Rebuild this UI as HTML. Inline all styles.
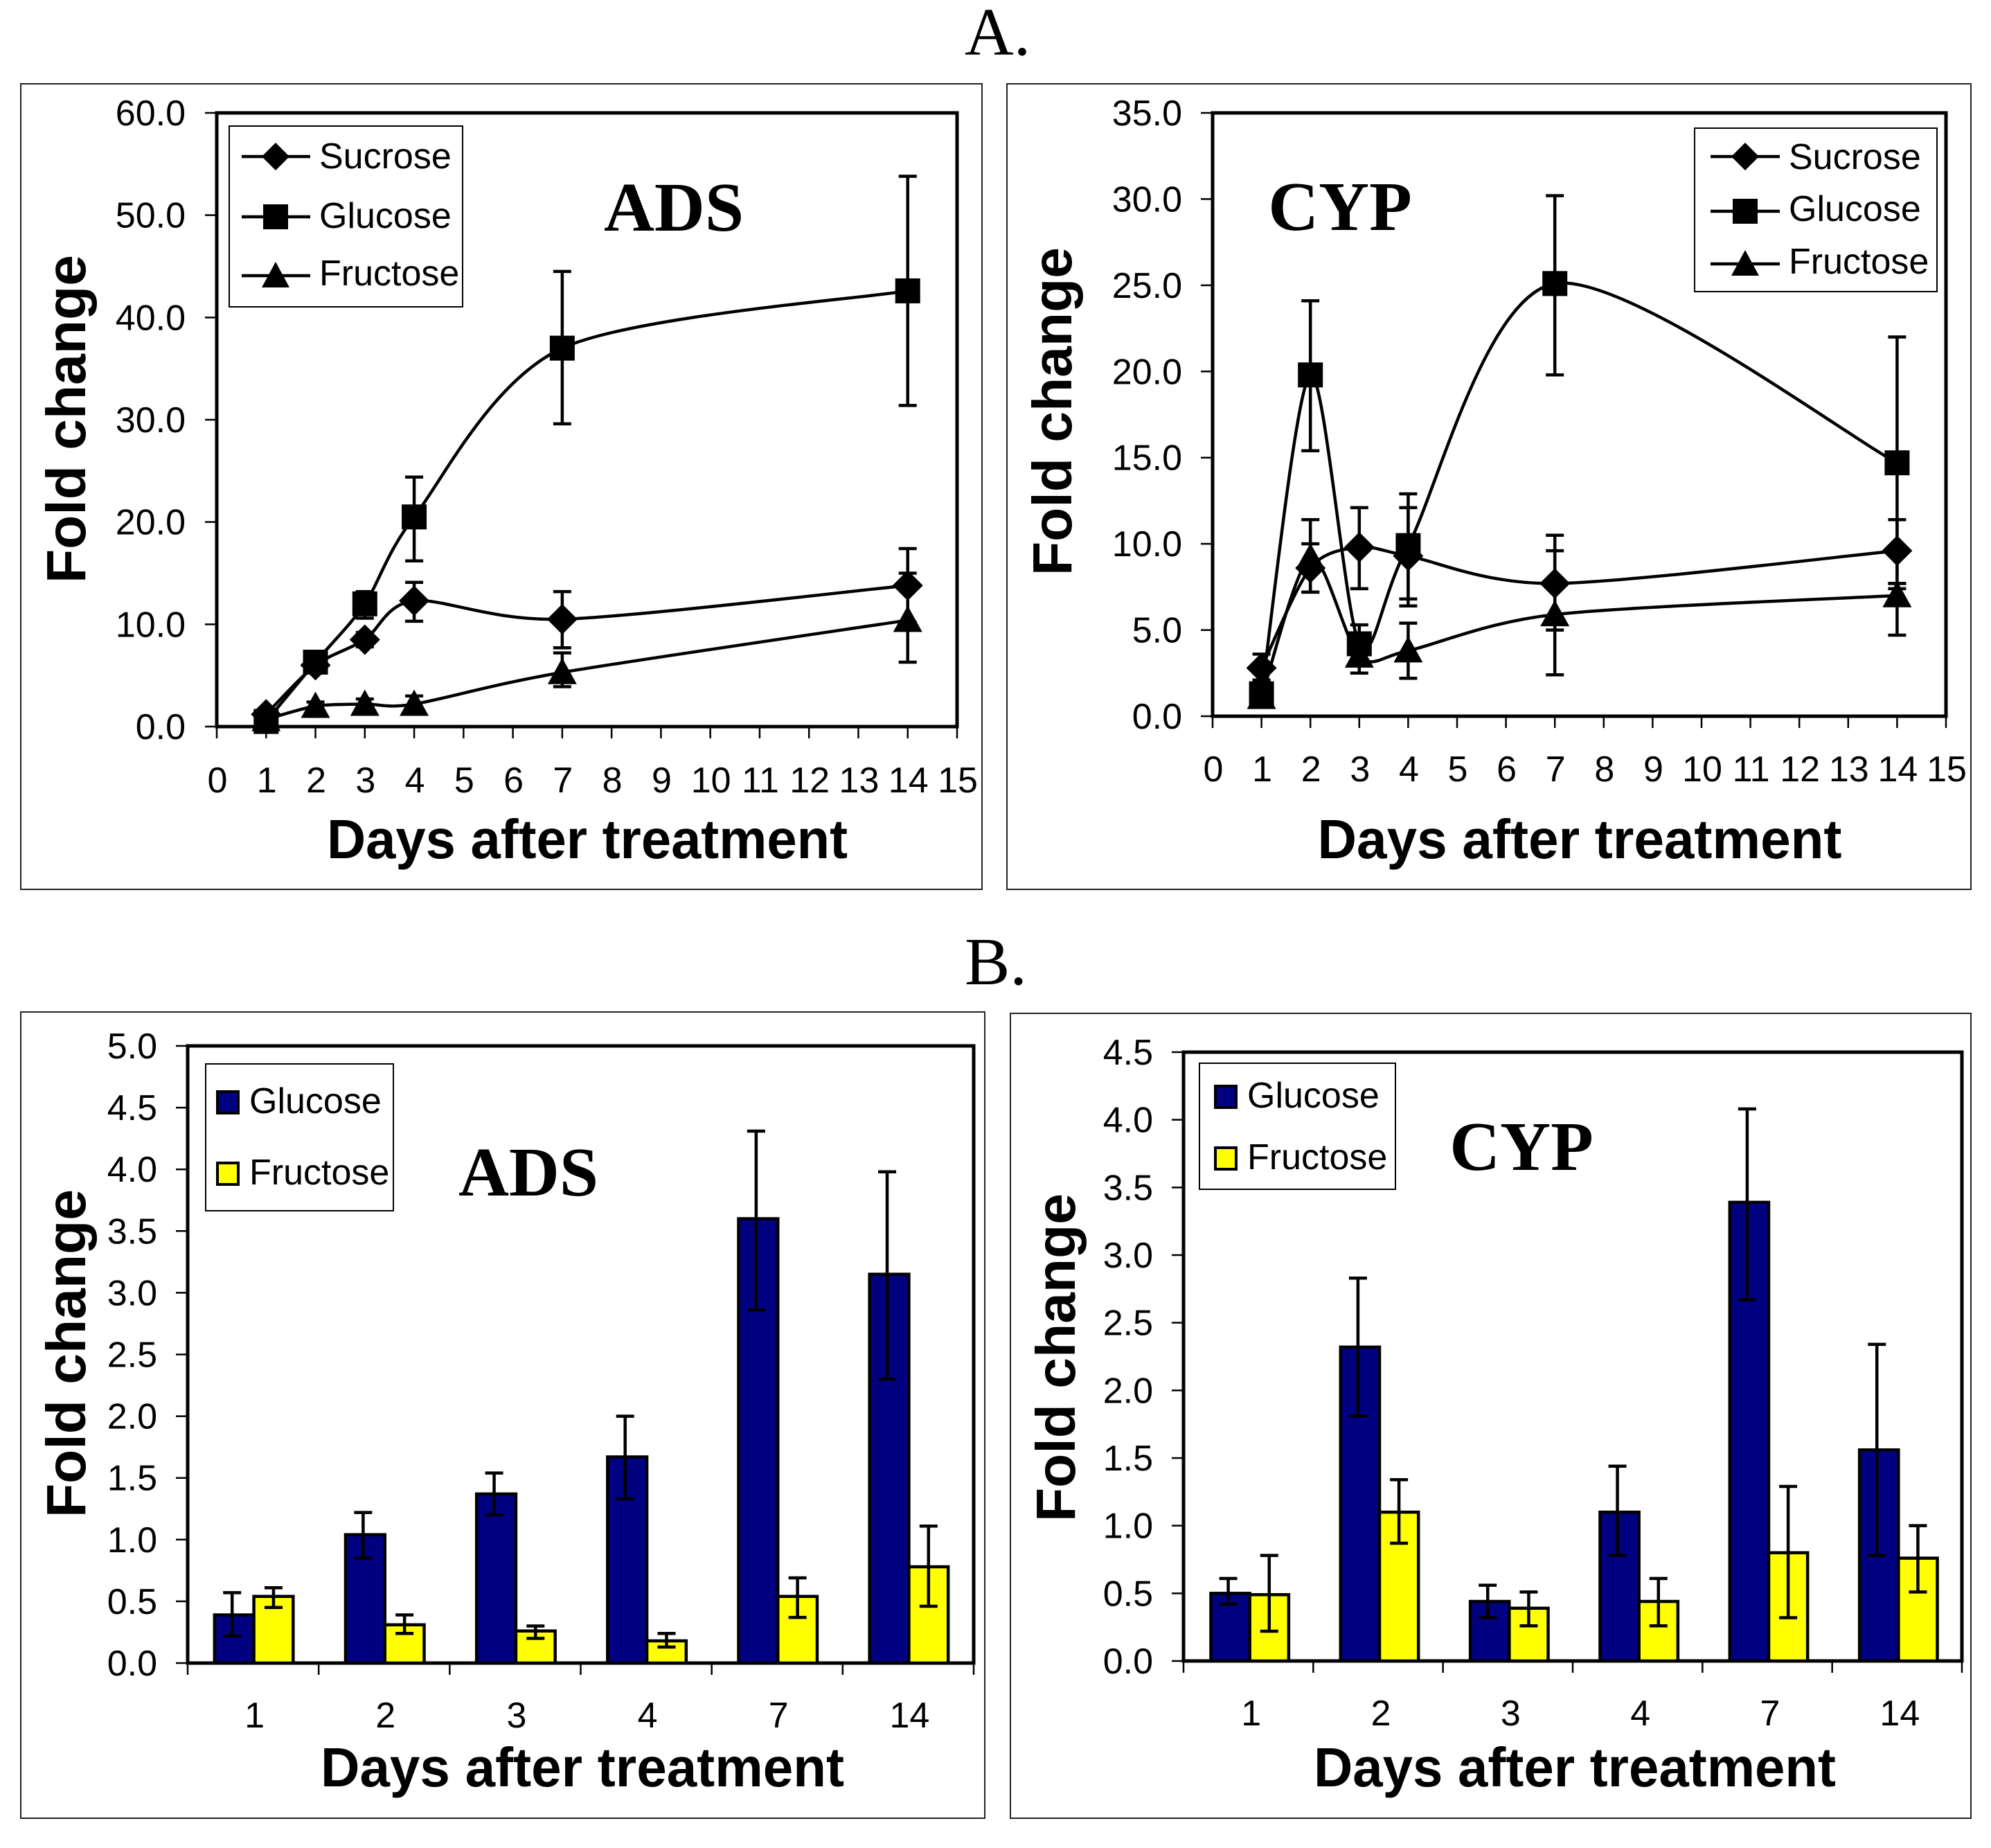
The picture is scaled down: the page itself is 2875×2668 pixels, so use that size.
<!DOCTYPE html>
<html>
<head>
<meta charset="utf-8">
<title>Fold change charts</title>
<style>
html,body{margin:0;padding:0;background:#fff;}
svg{display:block;}
text{fill:#000;}
.tick{font-family:"Liberation Sans",sans-serif;font-size:52px;}
.leg{font-family:"Liberation Sans",sans-serif;font-size:52px;}
.axt{font-family:"Liberation Sans",sans-serif;font-size:80px;font-weight:bold;}
.gene{font-family:"Liberation Serif",serif;font-size:101px;font-weight:bold;}
.sec{font-family:"Liberation Serif",serif;font-size:98px;}
</style>
</head>
<body>
<svg id="fig" xmlns="http://www.w3.org/2000/svg" width="2875" height="2668" viewBox="0 0 2875 2668">
<rect x="0" y="0" width="2875" height="2668" fill="#fff"/>
<text class="sec" x="1393" y="79">A.</text>
<text class="sec" x="1393" y="1421">B.</text>

<rect x="30" y="121" width="1388" height="1163" fill="#fff" stroke="#222" stroke-width="2"/>
<rect x="1454" y="121" width="1392" height="1163" fill="#fff" stroke="#222" stroke-width="2"/>
<rect x="30" y="1461" width="1392" height="1164" fill="#fff" stroke="#222" stroke-width="2"/>
<rect x="1459" y="1463" width="1387" height="1162" fill="#fff" stroke="#222" stroke-width="2"/>

<g id="chartA1"></g>
<g id="chartA2"></g>
<g id="chartB1"></g>
<g id="chartB2"></g>

<!-- Panel A ADS static text -->
<text class="axt" x="848" y="1239" text-anchor="middle" textLength="752" lengthAdjust="spacingAndGlyphs">Days after treatment</text>
<text class="axt" transform="translate(123 605) rotate(-90)" text-anchor="middle" textLength="474" lengthAdjust="spacingAndGlyphs">Fold change</text>
<text class="gene" x="973" y="333" text-anchor="middle">ADS</text>

<!-- Panel A CYP static text -->
<text class="axt" x="2281" y="1239" text-anchor="middle" textLength="757" lengthAdjust="spacingAndGlyphs">Days after treatment</text>
<text class="axt" transform="translate(1547 594) rotate(-90)" text-anchor="middle" textLength="474" lengthAdjust="spacingAndGlyphs">Fold change</text>
<text class="gene" x="1935" y="332" text-anchor="middle">CYP</text>

<!-- Panel B ADS static text -->
<text class="axt" x="841" y="2579" text-anchor="middle" textLength="756" lengthAdjust="spacingAndGlyphs">Days after treatment</text>
<text class="axt" transform="translate(123 1954) rotate(-90)" text-anchor="middle" textLength="474" lengthAdjust="spacingAndGlyphs">Fold change</text>
<text class="gene" x="763" y="1726" text-anchor="middle">ADS</text>

<!-- Panel B CYP static text -->
<text class="axt" x="2274" y="2579" text-anchor="middle" textLength="754" lengthAdjust="spacingAndGlyphs">Days after treatment</text>
<text class="axt" transform="translate(1552 1960) rotate(-90)" text-anchor="middle" textLength="474" lengthAdjust="spacingAndGlyphs">Fold change</text>
<text class="gene" x="2197" y="1689" text-anchor="middle">CYP</text>

<!-- Legend A ADS -->
<g>
<rect x="331" y="182" width="337" height="261" fill="#fff" stroke="#000" stroke-width="2"/>
<g>
<line x1="349" x2="448" y1="226" y2="226" stroke="#000" stroke-width="4.5"/>
<polygon points="398,206 418,226 398,246 378,226" fill="#000"/>
<text class="leg" x="461" y="243">Sucrose</text>
</g>
<g>
<line x1="349" x2="448" y1="313" y2="313" stroke="#000" stroke-width="4.5"/>
<rect x="380" y="295" width="36" height="36" fill="#000"/>
<text class="leg" x="461" y="329">Glucose</text>
</g>
<g>
<line x1="349" x2="448" y1="398" y2="398" stroke="#000" stroke-width="4.5"/>
<polygon points="398,378 418,415 378,415" fill="#000"/>
<text class="leg" x="461" y="412">Fructose</text>
</g>
</g>

<!-- Legend A CYP -->
<g>
<rect x="2447" y="185" width="350" height="236" fill="#fff" stroke="#000" stroke-width="2"/>
<g>
<line x1="2470" x2="2570" y1="226" y2="226" stroke="#000" stroke-width="4.5"/>
<polygon points="2520,206 2540,226 2520,246 2500,226" fill="#000"/>
<text class="leg" x="2583" y="244">Sucrose</text>
</g>
<g>
<line x1="2470" x2="2570" y1="305" y2="305" stroke="#000" stroke-width="4.5"/>
<rect x="2502" y="287" width="36" height="36" fill="#000"/>
<text class="leg" x="2583" y="319">Glucose</text>
</g>
<g>
<line x1="2470" x2="2570" y1="381" y2="381" stroke="#000" stroke-width="4.5"/>
<polygon points="2520,361 2540,398 2500,398" fill="#000"/>
<text class="leg" x="2583" y="395">Fructose</text>
</g>
</g>

<!-- Legend B ADS -->
<g>
<rect x="297" y="1536" width="271" height="212" fill="#fff" stroke="#000" stroke-width="2"/>
<g>
<rect x="314" y="1576" width="30" height="31" fill="#000080" stroke="#000" stroke-width="4"/>
<text class="leg" x="360" y="1607">Glucose</text>
</g>
<g>
<rect x="314" y="1679" width="30" height="31" fill="#ffff00" stroke="#000" stroke-width="4"/>
<text class="leg" x="360" y="1710">Fructose</text>
</g>
</g>

<!-- Legend B CYP -->
<g>
<rect x="1732" y="1535" width="283" height="182" fill="#fff" stroke="#000" stroke-width="2"/>
<g>
<rect x="1755" y="1568" width="30" height="31" fill="#000080" stroke="#000" stroke-width="4"/>
<text class="leg" x="1801" y="1599">Glucose</text>
</g>
<g>
<rect x="1755" y="1657" width="30" height="31" fill="#ffff00" stroke="#000" stroke-width="4"/>
<text class="leg" x="1801" y="1688">Fructose</text>
</g>
</g>
</svg>

<script>
// ---- shared categories ----
var lineDays = [1, 2, 3, 4, 7, 14];
var xTickLabels = [0, 1, 2, 3, 4, 5, 6, 7, 8, 9, 10, 11, 12, 13, 14, 15];
var barCategories = ['1', '2', '3', '4', '7', '14'];

// ---- Panel A, ADS ----
var adsYTicks = ['0.0', '10.0', '20.0', '30.0', '40.0', '50.0', '60.0'];
var adsSucrose = [1.2, 6.0, 8.5, 12.3, 10.5, 13.8];
var adsSucroseHi = [1.6, 6.6, 9.2, 14.1, 13.2, 17.4];
var adsSucroseLo = [0.8, 5.4, 7.8, 10.3, 7.7, 10.2];
var adsGlucose = [0.5, 6.3, 12.0, 20.5, 37.0, 42.6];
var adsGlucoseHi = [0.8, 7.0, 13.2, 24.4, 44.5, 53.8];
var adsGlucoseLo = [0.2, 5.6, 10.6, 16.2, 29.6, 31.4];
var adsFructose = [0.7, 2.0, 2.2, 2.2, 5.3, 10.4];
var adsFructoseHi = [0.9, 2.4, 2.7, 3.0, 7.2, 15.0];
var adsFructoseLo = [0.5, 1.6, 1.7, 1.5, 3.9, 6.3];

// ---- Panel A, CYP ----
var cypYTicks = ['0.0', '5.0', '10.0', '15.0', '20.0', '25.0', '30.0', '35.0'];
var cypSucrose = [2.8, 8.6, 9.8, 9.3, 7.7, 9.6];
var cypSucroseHi = [3.6, 10.0, 12.1, 12.1, 10.5, 11.4];
var cypSucroseLo = [2.1, 7.2, 7.4, 6.4, 5.0, 7.7];
var cypGlucose = [1.3, 19.8, 4.2, 9.9, 25.1, 14.7];
var cypGlucoseHi = [1.8, 24.1, 5.3, 12.9, 30.2, 22.0];
var cypGlucoseLo = [0.9, 15.4, 3.2, 6.8, 19.8, 7.4];
var cypFructose = [1.1, 9.2, 3.5, 3.8, 5.9, 7.0];
var cypFructoseHi = [1.4, 11.4, 4.5, 5.4, 9.6, 7.7];
var cypFructoseLo = [0.8, 7.2, 2.5, 2.2, 2.4, 4.7];

// ---- Panel B, ADS ----
var barAdsYTicks = ['0.0', '0.5', '1.0', '1.5', '2.0', '2.5', '3.0', '3.5', '4.0', '4.5', '5.0'];
var barAdsGlucose = [0.39, 1.04, 1.37, 1.67, 3.60, 3.15];
var barAdsGlucoseHi = [0.57, 1.22, 1.54, 2.00, 4.31, 3.98];
var barAdsGlucoseLo = [0.22, 0.85, 1.20, 1.33, 2.86, 2.30];
var barAdsFructose = [0.54, 0.31, 0.26, 0.18, 0.54, 0.78];
var barAdsFructoseHi = [0.61, 0.39, 0.30, 0.24, 0.69, 1.11];
var barAdsFructoseLo = [0.45, 0.24, 0.20, 0.13, 0.37, 0.46];

// ---- Panel B, CYP ----
var barCypYTicks = ['0.0', '0.5', '1.0', '1.5', '2.0', '2.5', '3.0', '3.5', '4.0', '4.5'];
var barCypGlucose = [0.50, 2.32, 0.44, 1.10, 3.39, 1.56];
var barCypGlucoseHi = [0.61, 2.83, 0.56, 1.44, 4.08, 2.34];
var barCypGlucoseLo = [0.42, 1.81, 0.32, 0.78, 2.67, 0.78];
var barCypFructose = [0.49, 1.10, 0.39, 0.44, 0.80, 0.76];
var barCypFructoseHi = [0.78, 1.34, 0.51, 0.61, 1.29, 1.00];
var barCypFructoseLo = [0.22, 0.87, 0.26, 0.26, 0.32, 0.51];

var NS = 'http://www.w3.org/2000/svg';

function mk(parent, tag, attrs) {
  var e = document.createElementNS(NS, tag);
  for (var k in attrs) { e.setAttribute(k, attrs[k]); }
  parent.appendChild(e);
  return e;
}

function scale(d0, d1, r0, r1) {
  return function (v) { return r0 + (v - d0) / (d1 - d0) * (r1 - r0); };
}

function drawYAxis(g, box, labels, yFn, step) {
  labels.forEach(function (lab, i) {
    var y = yFn(i * step);
    var t = mk(g, 'line', { x1: box.l - 17, x2: box.l, y1: y, y2: y, stroke: '#000', 'stroke-width': 2.5 });
    
    
    var tx = mk(g, 'text', { 'class': 'tick', x: box.labelRight, y: y + 18, 'text-anchor': 'end' });
    tx.textContent = lab;
    
    
  });
}

function drawPlotBox(g, box) {
  var r = mk(g, 'rect', { x: box.l, y: box.t, width: box.r - box.l, height: box.b - box.t, fill: 'none', stroke: '#000', 'stroke-width': 5 });
  
  
}

function smoothPath(pts) {
  var d = 'M' + pts[0][0] + ' ' + pts[0][1];
  for (var i = 0; i < pts.length - 1; i++) {
    var p0 = pts[Math.max(i - 1, 0)], p1 = pts[i], p2 = pts[i + 1], p3 = pts[Math.min(i + 2, pts.length - 1)];
    var c1x = p1[0] + (p2[0] - p0[0]) / 7, c1y = p1[1] + (p2[1] - p0[1]) / 7;
    var c2x = p2[0] - (p3[0] - p1[0]) / 7, c2y = p2[1] - (p3[1] - p1[1]) / 7;
    d += ' C' + c1x + ' ' + c1y + ' ' + c2x + ' ' + c2y + ' ' + p2[0] + ' ' + p2[1];
  }
  return d;
}

function drawErr(g, x, yHi, yLo, cap) {
  var v = mk(g, 'line', { x1: x, x2: x, y1: yHi, y2: yLo, stroke: '#000', 'stroke-width': 4.5 });
  
  
  var c1 = mk(g, 'line', { x1: x - cap, x2: x + cap, y1: yHi, y2: yHi, stroke: '#000', 'stroke-width': 4.5 });
  
  
  var c2 = mk(g, 'line', { x1: x - cap, x2: x + cap, y1: yLo, y2: yLo, stroke: '#000', 'stroke-width': 4.5 });
  
  
}

function drawMarker(g, kind, x, y) {
  var m;
  if (kind === 'diamond') {
    m = mk(g, 'polygon', { points: x + ',' + (y - 22) + ' ' + (x + 22) + ',' + y + ' ' + x + ',' + (y + 22) + ' ' + (x - 22) + ',' + y, fill: '#000' });
  } else if (kind === 'square') {
    m = mk(g, 'rect', { x: x - 18, y: y - 18, width: 36, height: 36, fill: '#000' });
  } else {
    m = mk(g, 'polygon', { points: x + ',' + (y - 21) + ' ' + (x + 21) + ',' + (y + 17) + ' ' + (x - 21) + ',' + (y + 17), fill: '#000' });
  }
  
  
}

function drawLineSeries(g, name, kind, vals, hi, lo, xFn, yFn) {
  var sg = mk(g, 'g', {});
  
  
  var pts = vals.map(function (v, i) { return [xFn(lineDays[i]), yFn(v)]; });
  var p = mk(sg, 'path', { d: smoothPath(pts), fill: 'none', stroke: '#000', 'stroke-width': 4.5 });
  
  
  vals.forEach(function (v, i) {
    drawErr(sg, xFn(lineDays[i]), yFn(hi[i]), yFn(lo[i]), 13);
  });
  vals.forEach(function (v, i) {
    drawMarker(sg, kind, xFn(lineDays[i]), yFn(v));
  });
}

function drawLineChart(id, box, yMax, yStep, yLabels, s) {
  var g = document.getElementById(id);
  var xFn = scale(0, 15, box.l, box.r);
  var yFn = scale(0, yMax, box.b, box.t);
  drawPlotBox(g, box);
  drawYAxis(g, box, yLabels, yFn, yStep);
  xTickLabels.forEach(function (lab) {
    var x = xFn(lab);
    var t = mk(g, 'line', { x1: x, x2: x, y1: box.b, y2: box.b + 17, stroke: '#000', 'stroke-width': 2.5 });
    
    
    var tx = mk(g, 'text', { 'class': 'tick', x: x + 1, y: box.xLabelY, 'text-anchor': 'middle' });
    tx.textContent = String(lab);
    
    
  });
  drawLineSeries(g, 'sucrose', 'diamond', s.sucrose, s.sucroseHi, s.sucroseLo, xFn, yFn);
  drawLineSeries(g, 'glucose', 'square', s.glucose, s.glucoseHi, s.glucoseLo, xFn, yFn);
  drawLineSeries(g, 'fructose', 'triangle', s.fructose, s.fructoseHi, s.fructoseLo, xFn, yFn);
}

function drawBarChart(id, box, yMax, yLabels, s) {
  var g = document.getElementById(id);
  var n = barCategories.length;
  var catFn = scale(0, n, box.l, box.r);
  var yFn = scale(0, yMax, box.b, box.t);
  var catW = (box.r - box.l) / n;
  var bw = catW * 0.3;
  drawPlotBox(g, box);
  drawYAxis(g, box, yLabels, yFn, 0.5);
  for (var k = 0; k <= n; k++) {
    var tk = mk(g, 'line', { x1: catFn(k), x2: catFn(k), y1: box.b, y2: box.b + 17, stroke: '#000', 'stroke-width': 2.5 });
    
    
  }
  barCategories.forEach(function (lab, i) {
    var c = catFn(i + 0.5) + box.barShift;
    var tx = mk(g, 'text', { 'class': 'tick', x: c + box.labelShift, y: box.xLabelY, 'text-anchor': 'middle' });
    tx.textContent = lab;
    
    
    var b1 = mk(g, 'rect', { x: c - bw, y: yFn(s.glucose[i]), width: bw, height: yFn(0) - yFn(s.glucose[i]), fill: '#000080', stroke: '#000', 'stroke-width': 4.5 });
    
    
    var b2 = mk(g, 'rect', { x: c, y: yFn(s.fructose[i]), width: bw, height: yFn(0) - yFn(s.fructose[i]), fill: '#ffff00', stroke: '#000', 'stroke-width': 4.5 });
    
    
    drawErr(g, c - bw / 2 - 3, yFn(s.glucoseHi[i]), yFn(s.glucoseLo[i]), 13);
    drawErr(g, c + bw / 2, yFn(s.fructoseHi[i]), yFn(s.fructoseLo[i]), 13);
  });
}

drawLineChart('chartA1', { l: 313, r: 1382, t: 163, b: 1049, labelRight: 268, xLabelY: 1144 }, 60, 10, adsYTicks, {
  sucrose: adsSucrose, sucroseHi: adsSucroseHi, sucroseLo: adsSucroseLo,
  glucose: adsGlucose, glucoseHi: adsGlucoseHi, glucoseLo: adsGlucoseLo,
  fructose: adsFructose, fructoseHi: adsFructoseHi, fructoseLo: adsFructoseLo
});
drawLineChart('chartA2', { l: 1751, r: 2810, t: 163, b: 1034, labelRight: 1707, xLabelY: 1128 }, 35, 5, cypYTicks, {
  sucrose: cypSucrose, sucroseHi: cypSucroseHi, sucroseLo: cypSucroseLo,
  glucose: cypGlucose, glucoseHi: cypGlucoseHi, glucoseLo: cypGlucoseLo,
  fructose: cypFructose, fructoseHi: cypFructoseHi, fructoseLo: cypFructoseLo
});
drawBarChart('chartB1', { l: 271, r: 1406, t: 1510, b: 2401, labelRight: 227, xLabelY: 2494, barShift: 1, labelShift: 1 }, 5, barAdsYTicks, {
  glucose: barAdsGlucose, glucoseHi: barAdsGlucoseHi, glucoseLo: barAdsGlucoseLo,
  fructose: barAdsFructose, fructoseHi: barAdsFructoseHi, fructoseLo: barAdsFructoseLo
});
drawBarChart('chartB2', { l: 1709, r: 2833, t: 1519, b: 2398, labelRight: 1665, xLabelY: 2491, barShift: 2, labelShift: 2 }, 4.5, barCypYTicks, {
  glucose: barCypGlucose, glucoseHi: barCypGlucoseHi, glucoseLo: barCypGlucoseLo,
  fructose: barCypFructose, fructoseHi: barCypFructoseHi, fructoseLo: barCypFructoseLo
});
</script>
</body>
</html>
